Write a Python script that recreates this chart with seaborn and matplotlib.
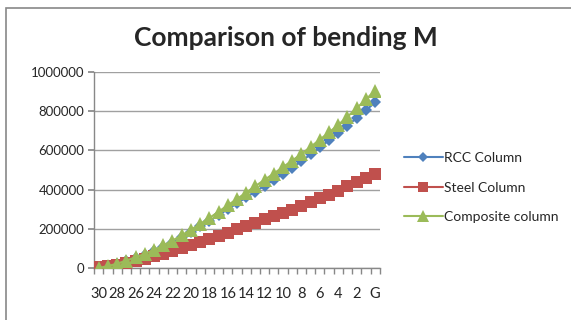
import matplotlib
matplotlib.use("Agg")
import matplotlib.pyplot as plt
import seaborn as sns
import pandas as pd
import numpy as np
from matplotlib.patches import Rectangle

floors = [str(n) for n in range(30, 0, -1)] + ["G"]
rcc = [0, 9000, 20000, 34000, 50000, 67000, 86000, 107000, 130000, 157000, 185000,
       212000, 240000, 270000, 300000, 330000, 360000, 390000, 420000, 450000, 480000,
       512000, 545000, 580000, 615000, 652000, 690000, 727000, 765000, 805000, 845000]
steel = [5000, 9000, 15000, 24000, 35000, 47000, 60000, 72000, 85000, 100000, 115000,
         132000, 150000, 165000, 180000, 197000, 215000, 232000, 250000, 265000, 280000,
         297000, 315000, 335000, 355000, 375000, 395000, 418000, 440000, 460000, 480000]
composite = [0, 10000, 22000, 38000, 55000, 72000, 92000, 115000, 140000, 167000, 195000,
             225000, 255000, 287000, 320000, 352000, 385000, 418000, 450000, 482000, 515000,
             548000, 582000, 618000, 655000, 692000, 730000, 772000, 815000, 860000, 905000]
series_names = ["RCC Column", "Steel Column", "Composite column"]
yticks = [0, 200000, 400000, 600000, 800000, 1000000]

sns.set_theme(style="white")
plt.rcParams['font.family'] = ['Lato', 'DejaVu Sans']

pos = list(range(len(floors)))
df = pd.concat([
    pd.DataFrame({"pos": pos, "value": vals, "series": name})
    for name, vals in zip(series_names, [rcc, steel, composite])
])

fig = plt.figure(figsize=(5.71, 3.2), dpi=100)
ax = fig.add_axes([0.165, 0.1625, 0.5, 0.6125])

palette = {"RCC Column": "#4F81BD", "Steel Column": "#C0504D", "Composite column": "#9BBB59"}
markers = {"RCC Column": "D", "Steel Column": "s", "Composite column": "^"}
sizes = {"RCC Column": 6.5, "Steel Column": 8.5, "Composite column": 10}
for name in series_names:
    sub = df[df.series == name]
    sns.lineplot(data=sub, x="pos", y="value", color=palette[name], marker=markers[name],
                 markersize=sizes[name], markeredgewidth=0, linewidth=1.5, ax=ax, label=name,
                 zorder=3)

ax.set_xlim(-0.5, len(floors) - 0.5)
ax.set_ylim(0, 1000000)
ax.set_yticks(yticks)
ax.set_yticklabels([str(v) for v in yticks], fontsize=9.5)
ax.yaxis.grid(True, color="#A0A0A0", linewidth=1)
ax.set_xticks(pos[::2])
ax.set_xticklabels(floors[::2], fontsize=10.5)
ax.set_xticks(np.arange(-0.5, len(floors), 1), minor=True)
ax.tick_params(axis="x", which="major", length=0, pad=14)
ax.tick_params(axis="x", which="minor", length=4, color="#888888", width=1, bottom=True)
ax.tick_params(axis="y", which="major", length=4, color="#888888", left=True, pad=3)
ax.set_xlabel("")
ax.set_ylabel("")
for s in ["top", "right"]:
    ax.spines[s].set_visible(False)
for s in ["left", "bottom"]:
    ax.spines[s].set_color("#888888")
    ax.spines[s].set_linewidth(1)

leg = ax.legend(loc="center left", bbox_to_anchor=(1.04, 0.41), frameon=False,
                fontsize=10, handlelength=2.8, labelspacing=1.25, handletextpad=0.1,
                markerscale=0.8)

fig.text(0.5, 0.88, "Comparison of bending M", ha="center", va="center",
         fontsize=19, fontweight="bold")

fig.patches.append(Rectangle((0.011, -0.05), 1.2, 1.025, transform=fig.transFigure,
                             fill=False, edgecolor="#888888", linewidth=1.2))

fig.savefig("out.png", dpi=100)
